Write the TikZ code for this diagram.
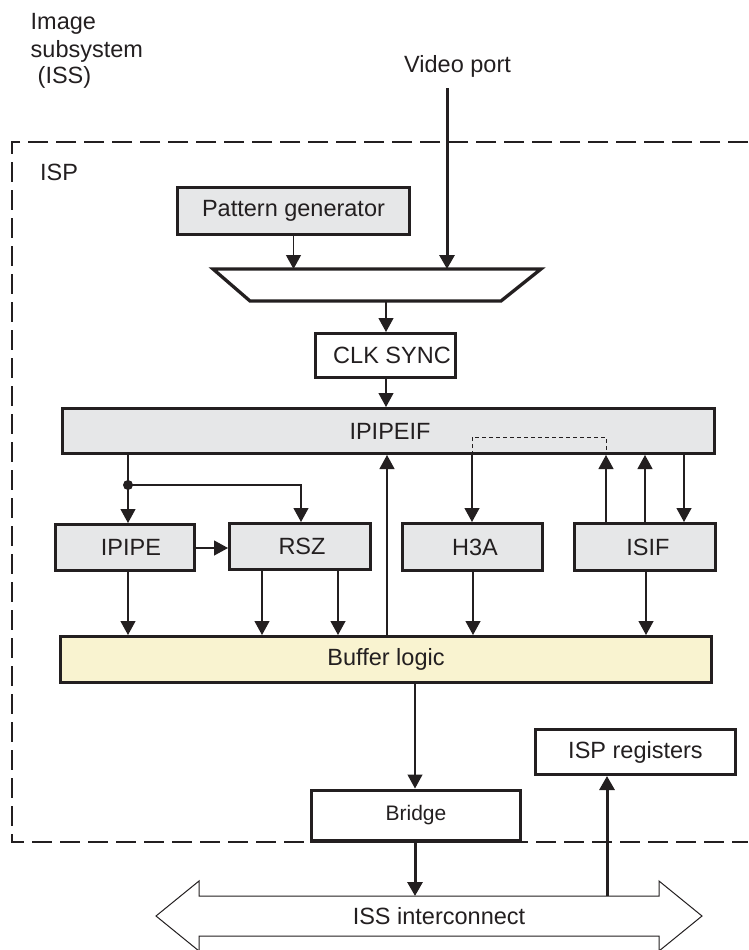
\documentclass[tikz,border=0pt]{standalone}
\usepackage{fontspec}
\setmainfont{Liberation Sans}
\usetikzlibrary{arrows.meta}
\definecolor{ink}{HTML}{231F20}
\definecolor{boxgray}{HTML}{E6E7E8}
\definecolor{bufyellow}{HTML}{F9F3D0}
\begin{document}
\begin{tikzpicture}[x=1pt,y=-1pt,
  every node/.style={text=ink, font=\fontsize{23.5}{27}\selectfont},
  blk/.style={draw=ink, line width=3.3pt, inner sep=0pt, rectangle},
  graybox/.style={blk, fill=boxgray},
  whitebox/.style={blk, fill=white},
  yelbox/.style={blk, fill=bufyellow},
  arr/.style={draw=ink, line width=1.2pt, -{Triangle[width=15pt,length=14pt]}},
  thickarr/.style={draw=ink, line width=3pt, -{Triangle[width=15pt,length=14pt]}},
  lbl/.style={inner sep=0pt, anchor=base west},
]
\useasboundingbox (0,0) rectangle (748,950);

% ISP frame (dashed)
\draw[ink, line width=2.5pt, dash pattern=on 20pt off 8pt]
  (748,142) -- (12,142) -- (12,842) -- (748,842);

% outer labels
\node[lbl] (lim) at (30.5,30) {Image};
\node[lbl] (lsub) at (30.5,57.5) {subsystem};
\node[lbl] (liss) at (37.5,83) {(ISS)};
\node[lbl] (lisp) at (40,180) {ISP};
\node[lbl] (lvp) at (404,73) {Video port};

% blocks
\node[graybox, minimum width=231.7pt, minimum height=46.7pt] (pg) at (293.5,211) {Pattern generator};
\draw[ink, fill=white, line width=3.3pt, line join=miter] (213,269) -- (541,269) -- (501,301) -- (250,301) -- cycle;
\coordinate (muxtop) at (447,269);
\coordinate (muxbot) at (386,301);
\coordinate (vpstart) at (447,88);
\node[whitebox, minimum width=139.7pt, minimum height=43.7pt] (clk) at (385.5,355.5) {\hspace*{13pt}CLK SYNC};
\node[graybox, minimum width=651.7pt, minimum height=44.7pt] (ipipeif) at (388.5,431) {\hspace*{3pt}IPIPEIF};
\node[graybox, minimum width=138.7pt, minimum height=45.7pt] (ipipe) at (125,547.5) {\hspace*{12pt}IPIPE};
\node[graybox, minimum width=140.7pt, minimum height=45.7pt] (rsz) at (300,546.5) {\hspace*{4pt}RSZ};
\node[graybox, minimum width=139.7pt, minimum height=46.7pt] (h3a) at (472.5,547) {\hspace*{5pt}H3A};
\node[graybox, minimum width=140.7pt, minimum height=46.7pt] (isif) at (645,547) {\hspace*{6pt}ISIF};
\node[yelbox, minimum width=650.7pt, minimum height=45.7pt] (buf) at (386,659.5) {Buffer logic};
\node[whitebox, minimum width=208.7pt, minimum height=50.7pt, font=\fontsize{21}{25}\selectfont] (bridge) at (416,815.5) {Bridge};
\node[whitebox, minimum width=199.7pt, minimum height=44.7pt] (ispreg) at (635.5,752) {ISP registers};

% ISS interconnect bus (double arrow)
\draw[ink, line width=1pt, fill=white, line join=miter]
  (156,916) -- (199,881) -- (199,896) -- (659,896) -- (659,881) -- (702,916)
  -- (659,951) -- (659,936) -- (199,936) -- (199,951) -- cycle;
\node (bus) at (439,916) {ISS interconnect};
\coordinate (bustop) at (429,896);

% dashed internal path in IPIPEIF
\draw[ink, line width=1pt, dash pattern=on 4pt off 3pt]
  (ipipeif.south -| 472,0) -- (472,437) -- (606,437) -- (ipipeif.south -| 606,0);

% connectors
\draw[arr] (pg.south) -- (pg.south |- muxtop);
\draw[thickarr] (vpstart) -- (muxtop);
\draw[arr] (muxbot) -- (muxbot |- clk.north);
\draw[arr] (clk.south -| muxbot) -- (muxbot |- ipipeif.north);

\coordinate (jn) at (128,485);
\draw[arr] (ipipeif.south -| jn) -- (ipipe.north -| jn);
\fill[ink] (jn) circle (5pt);
\draw[arr] (jn) -- (301,485) -- (rsz.north -| 301,0);
\draw[arr] (ipipe.east |- 0,548) -- (rsz.west |- 0,548);

\draw[arr] (buf.north -| 387,0) -- (ipipeif.south -| 387,0);
\draw[arr] (ipipeif.south -| 472,0) -- (h3a.north -| 472,0);
\draw[arr] (isif.north -| 606,0) -- (ipipeif.south -| 606,0);
\draw[arr] (isif.north -| 645,0) -- (ipipeif.south -| 645,0);
\draw[arr] (ipipeif.south -| 684,0) -- (isif.north -| 684,0);

\draw[arr] (ipipe.south -| jn) -- (buf.north -| jn);
\draw[arr] (rsz.south -| 262,0) -- (buf.north -| 262,0);
\draw[arr] (rsz.south -| 338,0) -- (buf.north -| 338,0);
\draw[arr] (h3a.south -| 473,0) -- (buf.north -| 473,0);
\draw[arr] (isif.south -| 646,0) -- (buf.north -| 646,0);

\draw[arr] (buf.south -| 415,0) -- (bridge.north -| 415,0);
\draw[thickarr] (bridge.south -| 415,0) -- (bustop -| 415,0);
\draw[thickarr] (bustop -| 607,0) -- (ispreg.south -| 607,0);
\end{tikzpicture}
\end{document}
